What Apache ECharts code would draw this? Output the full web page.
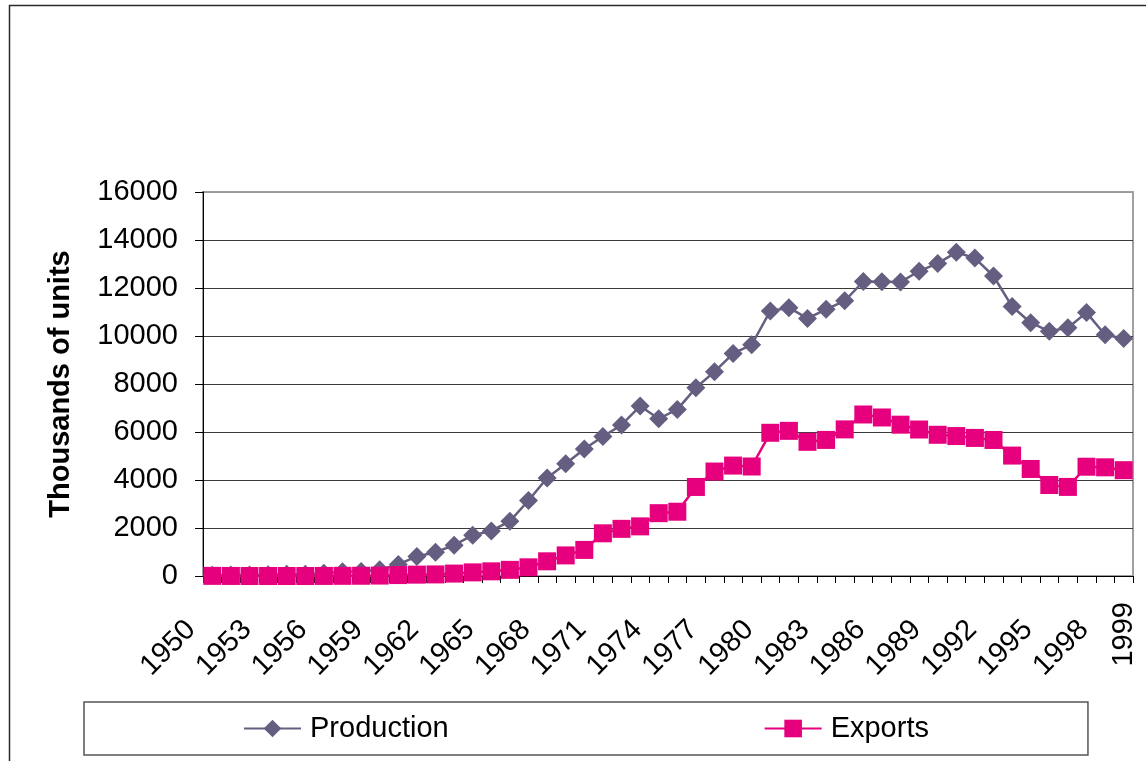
<!DOCTYPE html>
<html>
<head>
<meta charset="utf-8">
<title>Motor vehicle production and exports, 1950–1999</title>
<script src="https://cdn.jsdelivr.net/npm/echarts@6/dist/echarts.min.js"></script>
<style>
  html, body { margin: 0; padding: 0; background: #fff; }
  #chart { width: 1146px; height: 761px; }
</style>
</head>
<body>
<div id="chart"></div>
<script>
// Years on the category axis
const years = [
  '1950','1951','1952','1953','1954','1955','1956','1957','1958','1959',
  '1960','1961','1962','1963','1964','1965','1966','1967','1968','1969',
  '1970','1971','1972','1973','1974','1975','1976','1977','1978','1979',
  '1980','1981','1982','1983','1984','1985','1986','1987','1988','1989',
  '1990','1991','1992','1993','1994','1995','1996','1997','1998','1999'
];

// Thousands of units produced per year
const production = [
  32, 39, 39, 50, 70, 69, 111, 182, 188, 263,
  482, 814, 991, 1284, 1703, 1876, 2286, 3146, 4086, 4675,
  5289, 5811, 6294, 7083, 6552, 6942, 7841, 8515, 9269, 9636,
  11043, 11180, 10732, 11112, 11465, 12271, 12260, 12249, 12700, 13026,
  13487, 13245, 12499, 11228, 10554, 10196, 10347, 10975, 10050, 9895
];

// Thousands of units exported per year
const exportsData = [
  6, 2, 1, 1, 1, 1, 3, 7, 10, 18,
  39, 57, 66, 101, 151, 194, 256, 362, 612, 858,
  1087, 1779, 1965, 2068, 2618, 2678, 3710, 4353, 4601, 4563,
  5967, 6048, 5591, 5670, 6109, 6730, 6605, 6305, 6104, 5884,
  5831, 5753, 5668, 5018, 4460, 3791, 3712, 4553, 4529, 4409
];

// Value axis range and step
const yMin = 0;
const yMax = 16000;
const yStep = 2000;

const FONT = '"Liberation Sans", Arial, sans-serif';
const PROD_COLOR = '#665E80';
const EXP_COLOR = '#E6007E';

const chart = echarts.init(document.getElementById('chart'), null, { renderer: 'canvas' });

// Grid lines: dark inside, grey at the top edge of the plot area
const gridLineCount = (yMax - yMin) / yStep + 1;
const gridColors = [];
for (let i = 0; i < gridLineCount; i++) {
  gridColors.push(i === gridLineCount - 1 ? '#9a9a9a' : '#3a3a3a');
}

const option = {
  animation: false,
  backgroundColor: '#ffffff',
  textStyle: { fontFamily: FONT },
  graphic: [{
    type: 'rect',
    silent: true,
    shape: { x: 9.5, y: 5.5, width: 1300, height: 900 },
    style: { fill: 'none', stroke: '#2a2a2a', lineWidth: 1.5 }
  }],
  grid: {
    left: 203, top: 192, width: 930, height: 384,
    show: true,
    borderColor: '#a0a0a0',
    borderWidth: 2,
    backgroundColor: 'transparent',
    containLabel: false,
    outerBoundsMode: 'none'
  },
  legend: {
    left: 84,
    top: 702,
    orient: 'horizontal',
    padding: [12, 159, 12, 159],
    itemGap: 315,
    itemWidth: 57,
    itemHeight: 22,
    borderColor: '#555555',
    borderWidth: 1.5,
    textStyle: { fontSize: 29, color: '#000', fontFamily: FONT, padding: [0, 0, 0, 4] },
    data: ['Production', 'Exports']
  },
  xAxis: [{
    type: 'category',
    data: years,
    boundaryGap: true,
    axisLine: { show: true, onZero: false, lineStyle: { color: '#000', width: 1 } },
    axisTick: { show: true, interval: 0, length: 7, lineStyle: { color: '#000', width: 1 } },
    axisLabel: {
      interval: function (i) { return i % 3 === 0 && i < years.length - 1; },
      rotate: 45,
      margin: 28,
      padding: [0, 30, 25, 0],
      fontSize: 29,
      color: '#000',
      fontFamily: FONT
    },
    splitLine: { show: false }
  }, {
    // Final year, set upright at the right end of the axis
    type: 'category',
    data: years,
    position: 'bottom',
    boundaryGap: true,
    axisLine: { show: false },
    axisTick: { show: false },
    axisLabel: {
      interval: function (i) { return i === years.length - 1; },
      rotate: 90,
      margin: 26,
      fontSize: 29,
      color: '#000',
      fontFamily: FONT
    },
    splitLine: { show: false }
  }],
  yAxis: {
    type: 'value',
    min: yMin,
    max: yMax,
    interval: yStep,
    name: 'Thousands of units',
    nameLocation: 'middle',
    nameRotate: 90,
    nameGap: 128,
    nameTextStyle: { fontSize: 29, fontWeight: 'bold', color: '#000', fontFamily: FONT },
    axisLine: { show: true, lineStyle: { color: '#000', width: 1 } },
    axisTick: { show: true, length: 8, lineStyle: { color: '#000', width: 1 } },
    axisLabel: {
      margin: 25, fontSize: 29, color: '#000', fontFamily: FONT,
      formatter: function (v) { return String(v); }
    },
    splitLine: { show: true, lineStyle: { color: gridColors, width: 1 } }
  },
  series: [{
    name: 'Production',
    type: 'line',
    data: production,
    symbol: 'diamond',
    symbolSize: 19,
    showAllSymbol: true,
    itemStyle: { color: PROD_COLOR },
    lineStyle: { color: PROD_COLOR, width: 2.5 },
    emphasis: { disabled: true }
  }, {
    name: 'Exports',
    type: 'line',
    data: exportsData,
    symbol: 'rect',
    symbolSize: 18,
    showAllSymbol: true,
    itemStyle: { color: EXP_COLOR },
    lineStyle: { color: EXP_COLOR, width: 2.5 },
    emphasis: { disabled: true }
  }]
};

chart.setOption(option);
</script>
</body>
</html>
